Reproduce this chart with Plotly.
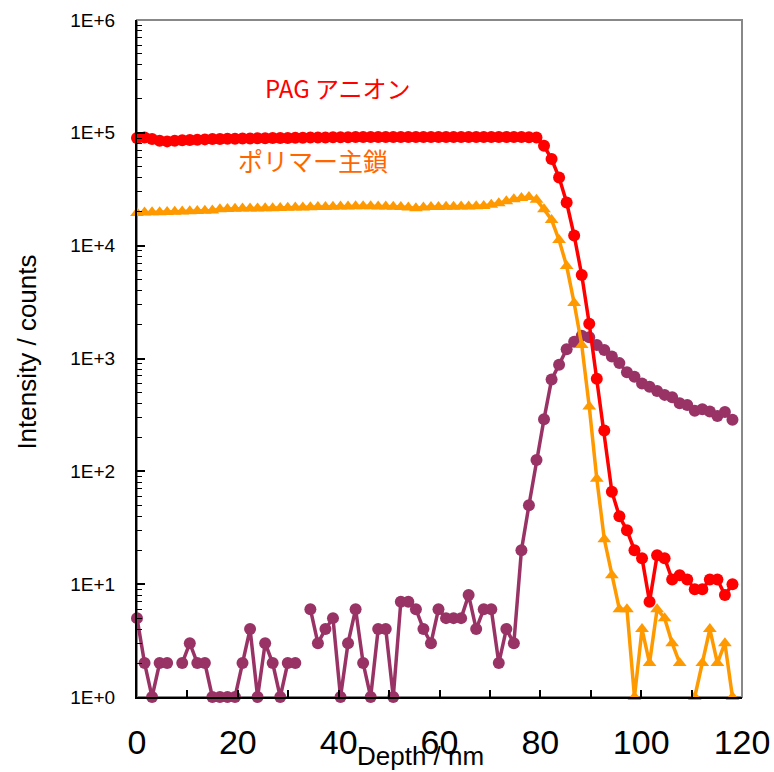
import plotly.graph_objects as go

depth_nm = [0.00, 1.50, 2.99, 4.49, 5.98, 7.48, 8.97, 10.47, 11.96, 13.46,
            14.95, 16.45, 17.94, 19.44, 20.93, 22.43, 23.92, 25.42, 26.91, 28.41,
            29.90, 31.40, 32.89, 34.39, 35.88, 37.38, 38.87, 40.37, 41.86, 43.36,
            44.85, 46.35, 47.84, 49.34, 50.83, 52.33, 53.82, 55.32, 56.81, 58.31,
            59.80, 61.30, 62.79, 64.29, 65.78, 67.28, 68.77, 70.27, 71.76, 73.26,
            74.75, 76.25, 77.74, 79.24, 80.73, 82.23, 83.72, 85.22, 86.71, 88.21,
            89.70, 91.20, 92.69, 94.19, 95.68, 97.18, 98.67, 100.17, 101.66, 103.16,
            104.65, 106.15, 107.64, 109.14, 110.63, 112.13, 113.62, 115.12, 116.61, 118.11]

pag_anion = [90000, 91000, 88000, 85000, 84000, 85000, 86000, 86500, 87000, 87500,
             88000, 88000, 88500, 88500, 89000, 89000, 89500, 89500, 90000, 90000,
             90000, 90500, 90500, 91000, 91000, 91000, 91500, 91500, 91500, 92000,
             92000, 92000, 92000, 92000, 92000, 92000, 92000, 92000, 92000, 92000,
             92000, 92000, 92000, 92000, 92000, 92000, 92000, 92000, 92000, 92000,
             92000, 92000, 91500, 91000, 76700, 58500, 40200, 24100, 12300, 5500,
             2030, 660, 230, 66, 40, 30, 20, 17, 7, 18,
             17, 11, 12, 11, 9, 9, 11, 11, 8, 10]

polymer_main = [19500, 19700, 19800, 19800, 19900, 20000, 20100, 20200, 20300, 20400,
                20500, 21000, 21100, 21200, 21300, 21300, 21400, 21500, 21500, 21600,
                21700, 21800, 21800, 21900, 22000, 22000, 22100, 22200, 22200, 22300,
                22300, 22300, 22200, 22200, 22100, 22000, 21800, 21500, 21800, 22000,
                22000, 22100, 22100, 22200, 22200, 22300, 22500, 23000, 23800, 24800,
                25800, 26500, 27000, 25500, 21000, 16900, 11200, 6600, 3100, 1320,
                375, 86, 25, 12, 6, 6, 1, 4, 2, 6,
                5, 3, 2, None, 1, 2, 4, 2, 3, 1]

third_species = [5, 2, 1, 2, 2, None, 2, 3, 2, 2,
                 1, 1, 1, 1, 2, 4, 1, 3, 2, 1,
                 2, 2, None, 6, 3, 4, 5, 1, 3, 6,
                 2, 1, 4, 4, 1, 7, 7, 6, 4, 3,
                 6, 5, 5, 5, 8, 4, 6, 6, 2, 4,
                 3, 20, 50, 126, 290, 650, 880, 1210, 1410, 1590,
                 1545, 1320, 1190, 1040, 910, 755, 690, 600, 563, 516,
                 476, 454, 402, 388, 345, 355, 339, 310, 336, 286]

y_tick_vals = [1, 10, 100, 1000, 10000, 100000, 1000000]
y_tick_text = ["1E+0", "1E+1", "1E+2", "1E+3", "1E+4", "1E+5", "1E+6"]
x_tick_vals = [0, 20, 40, 60, 80, 100, 120]

fig = go.Figure()
fig.add_trace(go.Scatter(
    x=depth_nm, y=third_species, mode="lines+markers", connectgaps=False,
    line=dict(color="#993366", width=3.5),
    marker=dict(symbol="circle", size=12, color="#993366"),
    cliponaxis=False, showlegend=False))
fig.add_trace(go.Scatter(
    x=depth_nm, y=polymer_main, mode="lines+markers", connectgaps=False,
    line=dict(color="#FF9900", width=3.5),
    marker=dict(symbol="triangle-up", size=12, color="#FF9900"),
    cliponaxis=False, showlegend=False))
fig.add_trace(go.Scatter(
    x=depth_nm, y=pag_anion, mode="lines+markers", connectgaps=False,
    line=dict(color="#FF0000", width=3.5),
    marker=dict(symbol="circle", size=12, color="#FF0000"),
    cliponaxis=False, showlegend=False))

fig.update_layout(
    width=774, height=772,
    margin=dict(l=137, r=32, t=20, b=75, autoexpand=False),
    paper_bgcolor="white", plot_bgcolor="white",
    font=dict(family="Liberation Sans, Arial, sans-serif", color="black"),
    shapes=[dict(type="rect", xref="paper", yref="paper", x0=0, y0=0, x1=1, y1=1,
                 line=dict(color="#888888", width=2), layer="below")],
    annotations=[
        dict(text="PAG アニオン", x=39.9, y=5.40, xref="x", yref="y", showarrow=False,
             font=dict(family="Noto Sans CJK JP", size=24, color="#FF0000")),
        dict(text="ポリマー主鎖", x=35.0, y=4.76, xref="x", yref="y", showarrow=False,
             font=dict(family="Noto Sans CJK JP", size=25, color="#FF6600")),
        dict(text="Depth / nm", x=0.468, y=-0.087, xref="paper", yref="paper",
             showarrow=False, yanchor="middle",
             font=dict(family="Liberation Sans, Arial", size=26, color="black")),
        dict(text="Intensity / counts", x=-0.182, y=0.51, xref="paper", yref="paper",
             showarrow=False, textangle=-90, xanchor="center",
             font=dict(family="Liberation Sans, Arial", size=26, color="black")),
    ],
)

fig.update_xaxes(
    range=[0, 120], tickvals=x_tick_vals, ticks="inside", ticklen=7, tickwidth=1.5,
    tickcolor="black", showline=True, linecolor="black", linewidth=2,
    showgrid=False, zeroline=False, ticklabelstandoff=14, automargin=False,
    minor=dict(dtick=10, tick0=0, ticks="inside", ticklen=7, tickcolor="black", tickwidth=1.5, showgrid=False),
    tickfont=dict(family="Liberation Sans, Arial", size=34, color="black"))

fig.update_yaxes(
    type="log", range=[0, 6], tickvals=y_tick_vals, ticktext=y_tick_text,
    ticks="inside", ticklen=8, tickwidth=1.5, tickcolor="black",
    showline=True, linecolor="black", linewidth=2, showgrid=False, zeroline=False,
    ticklabelstandoff=16, automargin=False,
    minor=dict(ticks="inside", ticklen=5, tickcolor="black", tickwidth=1, dtick="D1", showgrid=False),
    tickfont=dict(family="Liberation Sans, Arial", size=19, color="black"))

fig.write_html("out.html")
